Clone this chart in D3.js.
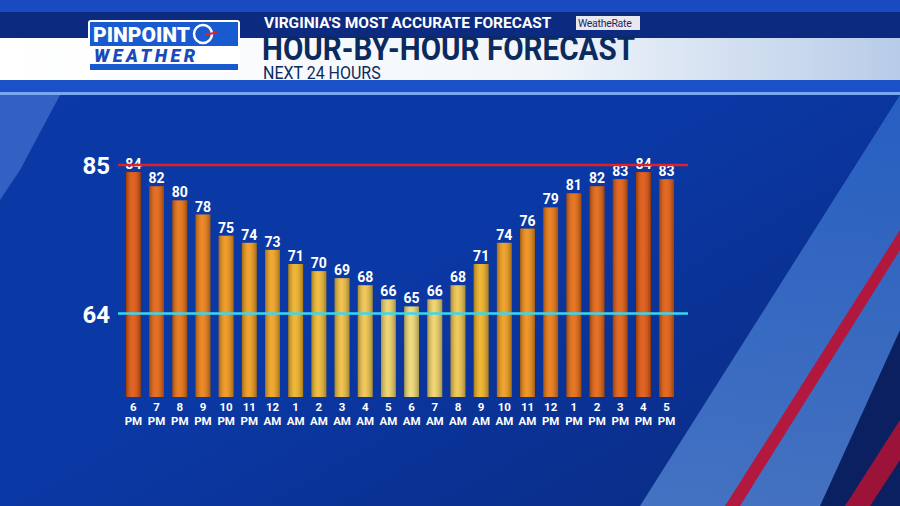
<!DOCTYPE html>
<html><head><meta charset="utf-8">
<script src="https://cdn.jsdelivr.net/npm/d3@7"></script>
<style>body{margin:0;background:#000}svg{display:block}</style></head>
<body><svg id="c" width="900" height="506"></svg>
<script>
const hours = ["6","7","8","9","10","11","12","1","2","3","4","5","6","7","8","9","10","11","12","1","2","3","4","5"];
const periods = ["PM","PM","PM","PM","PM","PM","AM","AM","AM","AM","AM","AM","AM","AM","AM","AM","AM","AM","PM","PM","PM","PM","PM","PM"];
const temps = [84,82,80,78,75,74,73,71,70,69,68,66,65,66,68,71,74,76,79,81,82,83,84,83];
const refLines = [{v:85,color:"#e0202a"},{v:64,color:"#38d8f0"}];

const svg = d3.select("#c");
const defs = svg.append("defs");
const bg = defs.append("linearGradient").attr("id","bg").attr("x1",0).attr("y1",0).attr("x2",1).attr("y2",1);
bg.append("stop").attr("offset","0").attr("stop-color","#0a3aa8");
bg.append("stop").attr("offset","0.5").attr("stop-color","#0a38a4");
bg.append("stop").attr("offset","1").attr("stop-color","#0a2a80");
svg.append("rect").attr("width",900).attr("height",506).attr("fill","url(#bg)");
const sky = defs.append("linearGradient").attr("id","sky").attr("x1",0).attr("y1",0).attr("x2",0).attr("y2",1);
sky.append("stop").attr("offset","0").attr("stop-color","#3a7ad8");
sky.append("stop").attr("offset","1").attr("stop-color","#6aa0e8");
svg.append("path").attr("d","M900,95 L900,506 L640,506 Z").attr("fill","url(#sky)").attr("opacity",0.6);
svg.append("path").attr("d","M900,230 L900,250 L740,506 L725,506 Z").attr("fill","#c01030").attr("opacity",0.9);
svg.append("path").attr("d","M900,330 L900,506 L820,506 Z").attr("fill","#0a2060");
svg.append("path").attr("d","M900,420 L900,460 L870,506 L845,506 Z").attr("fill","#c01030").attr("opacity",0.8);
svg.append("path").attr("d","M0,95 L60,95 L20,170 L0,200 Z").attr("fill","#5a8ae0").attr("opacity",0.5);
// header
svg.append("rect").attr("width",900).attr("height",12).attr("fill","#1a4ac0");
svg.append("rect").attr("y",12).attr("width",900).attr("height",26).attr("fill","#0b2a80");
const hg = defs.append("linearGradient").attr("id","hg").attr("x1",0).attr("y1",0).attr("x2",1).attr("y2",0);
hg.append("stop").attr("offset","0").attr("stop-color","#ffffff");
hg.append("stop").attr("offset","0.6").attr("stop-color","#f2f6fb");
hg.append("stop").attr("offset","1").attr("stop-color","#b8cce8");
svg.append("rect").attr("y",38).attr("width",900).attr("height",42).attr("fill","url(#hg)");
svg.append("rect").attr("y",80).attr("width",900).attr("height",12).attr("fill","#1a50c8");
svg.append("rect").attr("y",92).attr("width",900).attr("height",3).attr("fill","#7aa8f0");
// logo
svg.append("rect").attr("x",88).attr("y",20).attr("width",152).attr("height",52).attr("rx",3).attr("fill","#fff");
svg.append("rect").attr("x",90).attr("y",22).attr("width",148).attr("height",24).attr("fill","#1a5ad0");
svg.append("rect").attr("x",90).attr("y",64).attr("width",148).attr("height",6).attr("fill","#1a5ad0");
svg.append("text").attr("x",93).attr("y",42).text("PINPOINT").attr("font-family","Roboto").attr("font-weight","900").attr("font-size",21).attr("fill","#fff");
svg.append("text").attr("x",94).attr("y",62).text("WEATHER").attr("font-family","Roboto").attr("font-weight","900").attr("font-style","italic").attr("font-size",18).attr("letter-spacing",3.5).attr("fill","#1a4ab8");
svg.append("circle").attr("cx",203).attr("cy",34).attr("r",9).attr("fill","#1a5ad0").attr("stroke","#fff").attr("stroke-width",2.5);
svg.append("line").attr("x1",205).attr("y1",35).attr("x2",218).attr("y2",32).attr("stroke","#e02030").attr("stroke-width",2);
svg.append("text").attr("x",264).attr("y",28).text("VIRGINIA'S MOST ACCURATE FORECAST").attr("font-family","Roboto").attr("font-weight","bold").attr("font-size",15.5).attr("fill","#fff");
svg.append("rect").attr("x",576).attr("y",16).attr("width",64).attr("height",14).attr("fill","#e8e8f0");
svg.append("text").attr("x",578).attr("y",27).text("WeatheRate").attr("font-family","Roboto").attr("font-size",10.5).attr("letter-spacing",-0.3).attr("fill","#1a2a60");
svg.append("text").text("HOUR-BY-HOUR FORECAST").attr("font-family","Roboto").attr("font-weight","bold").attr("font-size",31).attr("fill","#0b2a60").attr("transform","translate(262,60) scale(0.955,1.08)");
svg.append("text").text("NEXT 24 HOURS").attr("font-family","Roboto").attr("font-size",16).attr("fill","#0b2a60").attr("transform","translate(263,79) scale(1.0,1.1)");

// chart
const x = d3.scaleBand().domain(d3.range(temps.length)).range([122.5,677.5]).paddingInner(0.36).paddingOuter(0.15);
const y = d3.scaleLinear().domain([52.2,85]).range([397,165]);
const col = d3.scaleLinear().domain([65,71,76,84]).range(["#f0d870","#f0b020","#f08a10","#e05208"]);
const bgG = defs.append("linearGradient").attr("id","bar").attr("x1",0).attr("x2",1);
bgG.append("stop").attr("offset","0").attr("stop-color","#000").attr("stop-opacity",0.3);
bgG.append("stop").attr("offset","0.45").attr("stop-color","#fff").attr("stop-opacity",0.1);
bgG.append("stop").attr("offset","1").attr("stop-color","#000").attr("stop-opacity",0.3);
const g = svg.append("g");
g.selectAll("rect.b").data(temps).join("rect").attr("class","b")
  .attr("x",(d,i)=>x(i)).attr("width",x.bandwidth()).attr("y",d=>y(d)).attr("height",d=>y.range()[0]-y(d)).attr("fill",d=>col(d));
g.selectAll("rect.s").data(temps).join("rect").attr("class","s")
  .attr("x",(d,i)=>x(i)).attr("width",x.bandwidth()).attr("y",d=>y(d)).attr("height",d=>y.range()[0]-y(d)).attr("fill","url(#bar)");
refLines.forEach(r=>{
  svg.append("line").attr("x1",118).attr("x2",688).attr("y1",y(r.v)).attr("y2",y(r.v)).attr("stroke",r.color).attr("stroke-width",2.5);
  svg.append("text").attr("x",110).attr("y",y(r.v)+9).attr("text-anchor","end").text(r.v).attr("font-family","Roboto").attr("font-weight","bold").attr("font-size",24).attr("fill","#fff");
});
g.selectAll("text.v").data(temps).join("text").attr("class","v")
  .attr("x",(d,i)=>x(i)+x.bandwidth()/2).attr("y",d=>y(d)-3).attr("text-anchor","middle").text(d=>d)
  .attr("font-family","Roboto").attr("font-weight","bold").attr("font-size",14).attr("fill","#fff");
g.selectAll("text.h").data(hours).join("text").attr("class","h")
  .attr("x",(d,i)=>x(i)+x.bandwidth()/2).attr("y",411).attr("text-anchor","middle").text(d=>d)
  .attr("font-family","Roboto").attr("font-weight","bold").attr("font-size",11.5).attr("fill","#fff");
g.selectAll("text.p").data(periods).join("text").attr("class","p")
  .attr("x",(d,i)=>x(i)+x.bandwidth()/2).attr("y",425).attr("text-anchor","middle").text(d=>d)
  .attr("font-family","Roboto").attr("font-weight","bold").attr("font-size",11.5).attr("fill","#fff");
</script></body></html>
